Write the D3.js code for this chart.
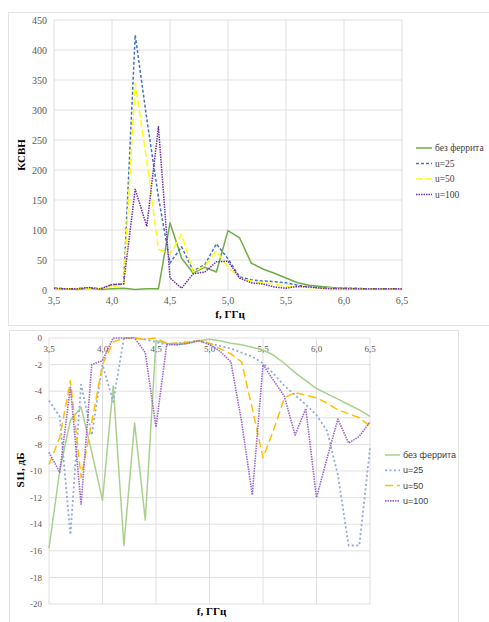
<!DOCTYPE html>
<html>
<head>
<meta charset="utf-8">
<script src="https://cdn.jsdelivr.net/npm/d3@7"></script>
<style>
  body { margin: 0; background: #fff; }
  svg { display: block; }
</style>
</head>
<body>
<svg id="chart" width="489" height="622"></svg>
<script>
// частоты, ГГц
var freq = [3.5, 3.6, 3.7, 3.8, 3.9, 4.0, 4.1, 4.2, 4.3, 4.4, 4.5, 4.6, 4.7, 4.8, 4.9, 5.0,
            5.1, 5.2, 5.3, 5.4, 5.5, 5.6, 5.7, 5.8, 5.9, 6.0, 6.1, 6.2, 6.3, 6.4, 6.5];
var seriesNames = ["без феррита", "u=25", "u=50", "u=100"];
var xTicks = [3.5, 4.0, 4.5, 5.0, 5.5, 6.0, 6.5];

// КСВН
var vswrNoFerrite = [2, 2, 1, 3, 1, 2, 3, 1, 2, 2, 112, 53, 28, 38, 30, 99, 87, 45, 35, 28, 20, 12, 8, 6, 4, 3, 2, 2, 2, 2, 2];
var vswrU25 = [3, 2, 2, 4, 2, 9, 10, 425, 285, 155, 45, 72, 32, 42, 77, 52, 22, 17, 15, 14, 12, 8, 5, 4, 3, 3, 3, 2, 2, 2, 2];
var vswrU50 = [2, 2, 2, 3, 2, 6, 8, 345, 215, 68, 60, 93, 30, 40, 65, 38, 20, 15, 12, 10, 6, 5, 4, 3, 3, 2, 2, 2, 2, 2, 2];
var vswrU100 = [3, 2, 2, 4, 2, 9, 10, 168, 106, 272, 20, 3, 27, 30, 47, 48, 20, 12, 10, 5, 3, 6, 5, 3, 2, 2, 2, 2, 2, 2, 2];
var vswrTicks = [0, 50, 100, 150, 200, 250, 300, 350, 400, 450];

// S11, дБ
var s11NoFerrite = [-15.8, -10.0, -6.2, -5.2, -8.6, -12.2, -3.6, -15.6, -6.4, -13.7, -0.2, -0.4, -0.5, -0.4, -0.2, -0.1,
                    -0.2, -0.4, -0.5, -0.7, -0.9, -1.3, -1.9, -2.6, -3.2, -3.8, -4.2, -4.6, -5.0, -5.4, -5.9];
var s11U25 = [-4.7, -5.9, -14.8, -3.5, -7.3, -2.0, -4.8, 0, 0, -0.1, -0.3, -0.5, -0.4, -0.3, -0.2, -0.4,
              -0.6, -0.8, -1.1, -1.4, -1.9, -2.7, -3.6, -4.3, -5.0, -5.8, -7.0, -10.3, -15.6, -15.6, -8.3];
var s11U50 = [-9.5, -7.5, -3.2, -10.5, -6.3, -2.0, -0.3, 0, 0, -0.1, 0, -0.4, -0.4, -0.3, -0.2, -0.4,
              -0.8, -1.2, -1.8, -5.3, -9.0, -6.9, -4.5, -4.1, -4.3, -4.5, -4.9, -5.4, -5.7, -6.0, -6.6];
var s11U100 = [-8.6, -10.1, -3.7, -12.5, -2.0, -1.7, 0, 0, 0, -1.1, -6.7, -0.5, -0.5, -0.4, -0.2, -0.5,
               -1.0, -1.8, -6.3, -11.8, -2.0, -3.2, -4.4, -7.3, -5.3, -12.0, -9.0, -6.1, -7.9, -7.4, -6.3];
var s11Ticks = [0, -2, -4, -6, -8, -10, -12, -14, -16, -18, -20];

var svg = d3.select("#chart");
var serif = "'Liberation Serif', 'Times New Roman', serif";
var comma = d => d3.format(".1f")(d).replace(".", ",");

// рамки диаграмм
svg.append("rect").attr("x", 8.5).attr("y", 12.5).attr("width", 500).attr("height", 313)
    .attr("fill", "none").attr("stroke", "#e3e3e3");
svg.append("rect").attr("x", 9.5).attr("y", 330.5).attr("width", 449).attr("height", 320)
    .attr("fill", "none").attr("stroke", "#e3e3e3");

function drawChart(opt) {
    var g = svg.append("g");
    var x = d3.scaleLinear().domain([3.5, 6.5]).range([opt.left, opt.right]);
    var y = d3.scaleLinear().domain(opt.yDomain).range([opt.bottom, opt.top]);

    // сетка
    g.append("g").selectAll("line").data(opt.yTicks).join("line")
        .attr("x1", opt.left).attr("x2", opt.right)
        .attr("y1", d => y(d)).attr("y2", d => y(d))
        .attr("stroke", "#e0e0e0").attr("stroke-width", 1);
    g.append("g").selectAll("line").data(xTicks).join("line")
        .attr("x1", d => x(d)).attr("x2", d => x(d))
        .attr("y1", opt.top).attr("y2", opt.bottom)
        .attr("stroke", "#e0e0e0").attr("stroke-width", 1);

    // подписи осей
    g.append("g").selectAll("text").data(opt.yTicks).join("text")
        .attr("x", opt.left - 7).attr("y", d => y(d)).attr("dy", "0.35em")
        .attr("text-anchor", "end")
        .style("font-family", serif).style("font-size", opt.tickSize + "px").style("fill", "#595959")
        .text(d => d);
    g.append("g").selectAll("text").data(xTicks).join("text")
        .attr("x", d => x(d)).attr("y", opt.xLabelY)
        .attr("text-anchor", "middle")
        .style("font-family", serif).style("font-size", opt.tickSize + "px").style("fill", "#595959")
        .text(comma);

    // линии
    var line = d3.line().x((d, i) => x(freq[i])).y(d => y(d));
    opt.series.forEach(function (s) {
        g.append("path").datum(s.values)
            .attr("d", line)
            .attr("fill", "none")
            .attr("stroke", s.color)
            .attr("stroke-width", s.width)
            .attr("stroke-dasharray", s.dash)
            .attr("stroke-linejoin", "round");
    });

    // заголовки осей
    g.append("text")
        .attr("transform", "translate(" + opt.yTitleX + "," + opt.yTitleY + ") rotate(-90)")
        .attr("text-anchor", "middle")
        .style("font-family", serif).style("font-size", "11px").style("font-weight", "700")
        .text(opt.yTitle);
    g.append("text")
        .attr("x", (opt.left + opt.right) / 2 + 2).attr("y", opt.xTitleY)
        .attr("text-anchor", "middle")
        .style("font-family", serif).style("font-size", "11px").style("font-weight", "700")
        .text("f, ГГц");

    // легенда
    var legend = g.selectAll(".legend").data(opt.series).join("g")
        .attr("class", "legend")
        .attr("transform", (d, i) => "translate(" + opt.legendX + "," + (opt.legendY + i * opt.legendStep) + ")");
    legend.append("line")
        .attr("x1", 0).attr("x2", opt.legendLine).attr("y1", 0).attr("y2", 0)
        .attr("stroke", d => d.color).attr("stroke-width", d => d.width)
        .attr("stroke-dasharray", d => d.dash);
    legend.append("text")
        .attr("x", opt.legendLine + 3).attr("dy", "0.35em")
        .style("font-family", opt.legendFont).style("font-size", opt.legendSize + "px").style("fill", "#404040")
        .text(d => d.name);
}

drawChart({
    left: 54, right: 402, top: 20, bottom: 290,
    yDomain: [0, 450], yTicks: vswrTicks, tickSize: 10, xLabelY: 304,
    yTitle: "КСВН", yTitleX: 25, yTitleY: 155, xTitleY: 318,
    legendX: 416, legendY: 148, legendStep: 15.5, legendLine: 16, legendSize: 9.5, legendFont: serif,
    series: [
        { name: seriesNames[0], values: vswrNoFerrite, color: "#70ad47", width: 1.5, dash: null },
        { name: seriesNames[1], values: vswrU25, color: "#4472c4", width: 1.5, dash: "3,2" },
        { name: seriesNames[2], values: vswrU50, color: "#ffff00", width: 1.5, dash: "7,3" },
        { name: seriesNames[3], values: vswrU100, color: "#7030a0", width: 1.5, dash: "1.5,1" }
    ]
});

drawChart({
    left: 49, right: 370, top: 338, bottom: 604,
    yDomain: [-20, 0], yTicks: s11Ticks, tickSize: 9, xLabelY: 352,
    yTitle: "S11, дБ", yTitleX: 24, yTitleY: 470, xTitleY: 615,
    legendX: 385, legendY: 455, legendStep: 15.3, legendLine: 15, legendSize: 9,
    legendFont: "'Liberation Sans', Arial, sans-serif",
    series: [
        { name: seriesNames[0], values: s11NoFerrite, color: "#a9d18e", width: 1.5, dash: null },
        { name: seriesNames[1], values: s11U25, color: "#8faadc", width: 1.8, dash: "2,2.5" },
        { name: seriesNames[2], values: s11U50, color: "#ffc000", width: 1.5, dash: "8,4" },
        { name: seriesNames[3], values: s11U100, color: "#9966cc", width: 1.6, dash: "1.5,1" }
    ]
});
</script>
</body>
</html>
